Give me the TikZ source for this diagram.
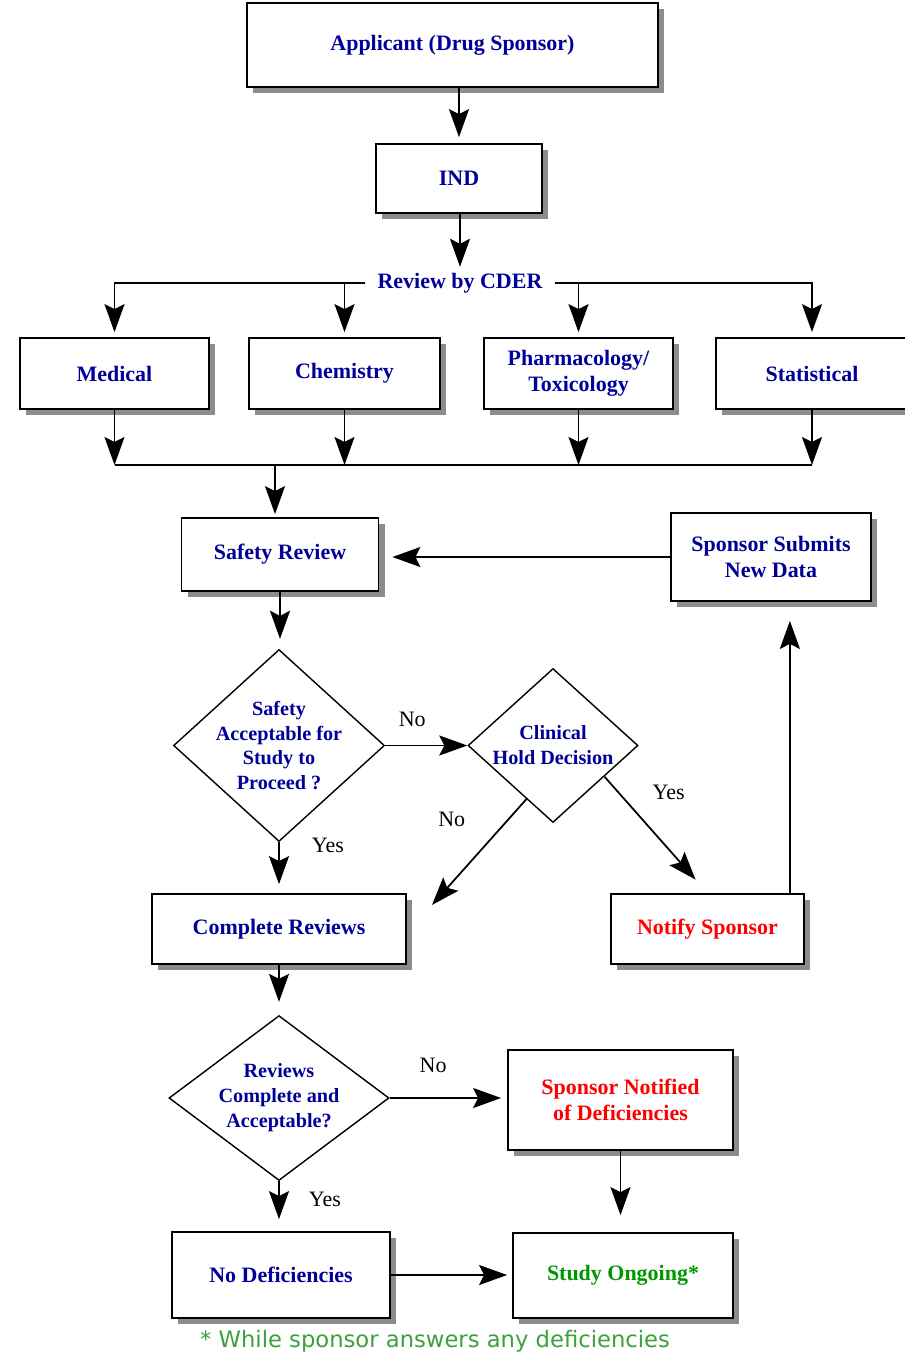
\documentclass[tikz,border=0pt]{standalone}
\usepackage{fontspec}
\setmainfont{Liberation Serif}
\newfontfamily\notefont{DejaVu Sans}
\usetikzlibrary{positioning,arrows.meta,calc,shapes.geometric,shadows}
\definecolor{boxblue}{RGB}{0,0,153}
\definecolor{boxred}{RGB}{255,0,0}
\definecolor{boxgreen}{RGB}{0,150,0}
\definecolor{notegreen}{RGB}{60,160,60}
\tikzset{
  flowbox/.style={draw, line width=1pt, fill=white, align=center,
    font=\fontsize{12.5}{15}\selectfont\bfseries, text=boxblue,
    drop shadow={shadow xshift=1.2mm, shadow yshift=-1.2mm, fill=black!45, opacity=1}},
  flowdiamond/.style={draw, diamond, line width=0.8pt, fill=white, align=center,
    font=\fontsize{11.5}{14.2}\selectfont\bfseries, text=boxblue, inner sep=-1.2mm},
  flowarrow/.style={-{Stealth[length=5.6mm, width=4mm, inset=1mm]}, line width=1pt},
  flowline/.style={line width=1pt},
  flowlabel/.style={font=\fontsize{12.5}{15}\selectfont, inner sep=0pt},
}

\begin{document}
\begin{tikzpicture}[x=0.2mm, y=-0.2mm]
  \useasboundingbox (0,0) rectangle (904,1354);
  % submission
  \node[flowbox, minimum width=82.2mm, minimum height=16.8mm] (appl) at (452.5,45) {Applicant (Drug Sponsor)};
  \node[flowbox, minimum width=33.2mm, minimum height=13.8mm] (ind) at (459,178.5) {IND};
  \node[font=\fontsize{12.5}{15}\selectfont\bfseries, text=boxblue, inner xsep=2.4mm] (cder) at (460,283) {Review by CDER};
  \draw[flowarrow, shorten >=1.2mm] (appl.south -| ind.north) -- (ind.north);
  \draw[flowarrow] (ind.south -| cder.north) -- (cder.north);
  % review disciplines
  \node[flowbox, minimum width=37.8mm, minimum height=14.2mm] (med) at (114.5,373.5) {Medical};
  \node[flowbox, minimum width=38.2mm, minimum height=14.2mm] (chem) at (344.5,373.5) {Chemistry};
  \node[flowbox, minimum width=37.8mm, minimum height=14.2mm] (pharm) at (578.5,373.5) {Pharmacology/\\Toxicology};
  \node[flowbox, minimum width=38.4mm, minimum height=14.2mm] (stat) at (812,373.5) {Statistical};
  \foreach \b in {med,chem}
    \draw[flowarrow, shorten >=1mm] (cder.west) -| (\b.north);
  \foreach \b in {pharm,stat}
    \draw[flowarrow, shorten >=1mm] (cder.east) -| (\b.north);
  \coordinate (merge) at (275,465);
  \foreach \b in {med,chem,pharm,stat}
    \draw[flowarrow] (\b.south) -- (\b.south |- merge);
  \draw[flowline] (med.south |- merge) -- (stat.south |- merge);
  % safety review loop
  \node[flowbox, minimum width=39.4mm, minimum height=14.6mm] (safety) at (280,554.5) {Safety Review};
  \node[flowbox, minimum width=40mm, minimum height=17.6mm] (subm) at (771,557) {Sponsor Submits\\New Data};
  \draw[flowarrow, shorten >=0.6mm] (merge) -- (merge |- safety.north);
  \draw[flowarrow, shorten >=2.6mm] (subm.west) -- (subm.west -| safety.east);
  \node[flowdiamond, minimum width=42.2mm, minimum height=38.4mm] (safeq) at (279,745.5) {Safety\\Acceptable for\\Study to\\Proceed ?};
  \node[flowdiamond, minimum width=34mm, minimum height=30.8mm] (hold) at (553,745.5) {Clinical\\Hold Decision};
  \draw[flowarrow, shorten >=2mm] (safety.south) -- (safety.south |- safeq.north);
  \draw[flowarrow] (safeq.east) -- node[flowlabel, pos=0.33, above=3.5mm] {No} (hold.west);
  \node[flowbox, minimum width=50.8mm, minimum height=14mm] (compl) at (279,929) {Complete Reviews};
  \node[flowbox, minimum width=38.6mm, minimum height=14mm, text=boxred] (notify) at (707.5,929) {Notify Sponsor};
  \coordinate (holdno) at (432,905);
  \draw[flowarrow, shorten >=1.8mm] (safeq.south) -- node[flowlabel, pos=0.06, right=6.4mm] {Yes} (safeq.south |- compl.north);
  \draw[flowarrow] ($(hold.west)!0.69!(hold.south)$) -- node[flowlabel, pos=0.19, left=8.5mm] {No} (holdno);
  \draw[flowarrow, shorten >=3.6mm] ($(hold.east)!0.4!(hold.south)$) -- node[flowlabel, pos=0.14, right=6.6mm] {Yes} (notify.north);
  \draw[flowarrow, shorten >=3.8mm] ([xshift=-3mm]notify.north east) -- ([xshift=-3mm]notify.north east |- subm.south);
  % final decision
  \node[flowdiamond, minimum width=44mm, minimum height=28mm] (revq) at (279,1098) {Reviews\\Complete and\\Acceptable?};
  \node[flowbox, minimum width=45mm, minimum height=20mm, text=boxred] (defic) at (620.5,1100) {Sponsor Notified\\of Deficiencies};
  \node[flowbox, minimum width=43.6mm, minimum height=17.2mm] (nodef) at (281,1275) {No Deficiencies};
  \node[flowbox, minimum width=44mm, minimum height=17mm, text=boxgreen] (study) at (623,1275.5) {Study Ongoing*};
  \draw[flowarrow, shorten >=2.6mm] (compl.south) -- (compl.south |- revq.north);
  \draw[flowarrow, shorten >=1.2mm] (revq.east) -- node[flowlabel, pos=0.37, above=4.9mm] {No} (revq.east -| defic.west);
  \draw[flowarrow, shorten >=2.4mm] (revq.south) -- node[flowlabel, pos=0.375, right=5.8mm] {Yes} (revq.south |- nodef.north);
  \draw[flowarrow, shorten >=3.4mm] (defic.south) -- (defic.south |- study.north);
  \draw[flowarrow, shorten >=1mm] (nodef.east) -- (nodef.east -| study.west);
  \node[font=\notefont\fontsize{12.9}{14}\selectfont, text=notegreen] (note) at (435,1341) {* While sponsor answers any deficiencies};
\end{tikzpicture}
\end{document}
